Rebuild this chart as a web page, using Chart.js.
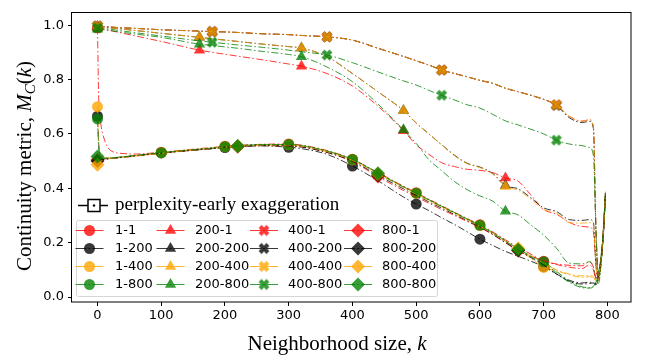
<!DOCTYPE html>
<html>
<head>
<meta charset="utf-8">
<script src="https://cdn.jsdelivr.net/npm/chart.js@4.4.0/dist/chart.umd.min.js"></script>
<style>
html, body { margin: 0; padding: 0; background: #fff; }
</style>
</head>
<body>
<canvas id="chart" width="655" height="362"></canvas>
<script>
// neighborhood sizes k (shared x grid for every curve)
const kValues = [0, 2, 5, 10, 20, 40, 60, 100, 160, 180, 200, 220, 260, 300, 320, 360, 400, 440, 480, 500,
  520, 540, 560, 580, 600, 620, 640, 660, 680, 700, 720, 740, 760, 772, 778, 782, 786, 790, 794, 797];

const perplexities = [1, 200, 400, 800];
const exaggerations = [1, 200, 400, 800];

// k where a marker is drawn, per perplexity
const markerK = {
  1: [0, 100, 200, 300, 400, 500, 600, 700],
  200: [0, 160, 320, 480, 640],
  400: [0, 180, 360, 540, 720],
  800: [0, 220, 440, 660]
};

const xTicks = [0, 100, 200, 300, 400, 500, 600, 700, 800];
const yTicks = [0, 0.2, 0.4, 0.6, 0.8, 1.0];

// continuity metric M_C(k), one array per perplexity-exaggeration
const mc_1_1 = [0.99, 0.72, 0.64, 0.585, 0.54, 0.528, 0.526, 0.533, 0.546, 0.550, 0.555, 0.558, 0.562, 0.563, 0.559, 0.539, 0.507, 0.458, 0.408, 0.384, 0.360, 0.336, 0.312, 0.289, 0.266, 0.240, 0.211, 0.183, 0.158, 0.132, 0.122, 0.117, 0.115, 0.130, 0.110, 0.070, 0.085, 0.145, 0.250, 0.380];
const mc_1_200 = [0.665, 0.56, 0.52, 0.511, 0.511, 0.515, 0.520, 0.530, 0.542, 0.546, 0.550, 0.553, 0.556, 0.551, 0.546, 0.525, 0.482, 0.428, 0.368, 0.342, 0.318, 0.292, 0.267, 0.240, 0.213, 0.190, 0.168, 0.150, 0.132, 0.112, 0.085, 0.062, 0.052, 0.055, 0.050, 0.045, 0.070, 0.130, 0.240, 0.370];
const mc_1_400 = [0.70, 0.57, 0.525, 0.514, 0.512, 0.516, 0.521, 0.531, 0.544, 0.548, 0.553, 0.556, 0.560, 0.560, 0.556, 0.536, 0.505, 0.456, 0.405, 0.381, 0.357, 0.333, 0.310, 0.286, 0.263, 0.236, 0.206, 0.176, 0.142, 0.109, 0.097, 0.082, 0.073, 0.075, 0.070, 0.060, 0.075, 0.140, 0.250, 0.380];
const mc_1_800 = [0.655, 0.55, 0.515, 0.510, 0.511, 0.516, 0.521, 0.531, 0.544, 0.548, 0.553, 0.556, 0.561, 0.561, 0.557, 0.537, 0.506, 0.457, 0.406, 0.382, 0.358, 0.334, 0.311, 0.287, 0.264, 0.237, 0.207, 0.177, 0.152, 0.130, 0.095, 0.060, 0.038, 0.035, 0.040, 0.055, 0.090, 0.150, 0.250, 0.380];

const mc_200_1 = [0.990, 0.990, 0.988, 0.985, 0.980, 0.970, 0.960, 0.940, 0.908, 0.900, 0.893, 0.886, 0.872, 0.857, 0.849, 0.822, 0.776, 0.702, 0.612, 0.560, 0.525, 0.494, 0.480, 0.470, 0.466, 0.458, 0.438, 0.426, 0.375, 0.322, 0.305, 0.275, 0.260, 0.257, 0.240, 0.120, 0.070, 0.130, 0.250, 0.380];
const mc_200_200 = [0.995, 0.995, 0.994, 0.993, 0.990, 0.985, 0.980, 0.970, 0.955, 0.950, 0.945, 0.940, 0.930, 0.921, 0.916, 0.884, 0.822, 0.755, 0.686, 0.640, 0.600, 0.560, 0.522, 0.492, 0.478, 0.455, 0.410, 0.398, 0.365, 0.328, 0.315, 0.285, 0.282, 0.285, 0.275, 0.120, 0.060, 0.130, 0.250, 0.380];
const mc_200_400 = [0.995, 0.995, 0.994, 0.993, 0.990, 0.985, 0.980, 0.970, 0.955, 0.950, 0.945, 0.940, 0.930, 0.921, 0.916, 0.884, 0.822, 0.755, 0.686, 0.640, 0.600, 0.560, 0.520, 0.490, 0.476, 0.452, 0.407, 0.393, 0.360, 0.322, 0.310, 0.274, 0.272, 0.274, 0.265, 0.120, 0.060, 0.130, 0.250, 0.380];
const mc_200_800 = [0.985, 0.985, 0.984, 0.983, 0.980, 0.973, 0.967, 0.955, 0.930, 0.925, 0.920, 0.915, 0.903, 0.892, 0.884, 0.846, 0.792, 0.710, 0.615, 0.565, 0.505, 0.465, 0.425, 0.395, 0.372, 0.353, 0.316, 0.302, 0.265, 0.228, 0.180, 0.125, 0.122, 0.130, 0.110, 0.070, 0.050, 0.120, 0.250, 0.380];

const mc_400_1 = [0.997, 0.997, 0.996, 0.995, 0.993, 0.990, 0.988, 0.983, 0.978, 0.976, 0.975, 0.973, 0.968, 0.965, 0.962, 0.957, 0.945, 0.915, 0.885, 0.869, 0.853, 0.835, 0.822, 0.810, 0.797, 0.786, 0.768, 0.755, 0.742, 0.727, 0.707, 0.665, 0.647, 0.652, 0.625, 0.250, 0.070, 0.130, 0.260, 0.390];
const mc_400_200 = [0.997, 0.997, 0.996, 0.995, 0.993, 0.990, 0.988, 0.983, 0.978, 0.976, 0.975, 0.973, 0.968, 0.965, 0.962, 0.957, 0.945, 0.915, 0.885, 0.869, 0.853, 0.835, 0.822, 0.810, 0.797, 0.786, 0.768, 0.755, 0.742, 0.727, 0.705, 0.660, 0.642, 0.646, 0.620, 0.250, 0.070, 0.130, 0.260, 0.390];
const mc_400_400 = [0.997, 0.997, 0.996, 0.995, 0.993, 0.990, 0.988, 0.983, 0.978, 0.976, 0.975, 0.973, 0.968, 0.965, 0.962, 0.957, 0.945, 0.915, 0.885, 0.869, 0.853, 0.835, 0.822, 0.810, 0.797, 0.786, 0.768, 0.755, 0.742, 0.727, 0.707, 0.665, 0.647, 0.652, 0.625, 0.250, 0.070, 0.130, 0.260, 0.390];
const mc_400_800 = [0.990, 0.990, 0.989, 0.988, 0.985, 0.978, 0.972, 0.960, 0.942, 0.937, 0.932, 0.927, 0.918, 0.908, 0.902, 0.890, 0.862, 0.828, 0.795, 0.780, 0.760, 0.742, 0.725, 0.707, 0.695, 0.672, 0.648, 0.633, 0.617, 0.600, 0.577, 0.563, 0.557, 0.550, 0.520, 0.250, 0.070, 0.130, 0.250, 0.380];

const mc_800_1 = [0.505, 0.505, 0.505, 0.506, 0.509, 0.514, 0.519, 0.529, 0.542, 0.546, 0.551, 0.554, 0.557, 0.556, 0.552, 0.532, 0.498, 0.443, 0.392, 0.368, 0.345, 0.322, 0.300, 0.278, 0.256, 0.230, 0.200, 0.170, 0.150, 0.135, 0.120, 0.110, 0.105, 0.118, 0.100, 0.065, 0.080, 0.140, 0.250, 0.380];
const mc_800_200 = [0.500, 0.502, 0.504, 0.506, 0.509, 0.514, 0.519, 0.529, 0.542, 0.546, 0.551, 0.554, 0.557, 0.556, 0.552, 0.532, 0.500, 0.448, 0.398, 0.374, 0.350, 0.327, 0.304, 0.281, 0.258, 0.231, 0.201, 0.172, 0.145, 0.118, 0.085, 0.058, 0.048, 0.050, 0.052, 0.050, 0.080, 0.140, 0.250, 0.380];
const mc_800_400 = [0.487, 0.495, 0.500, 0.505, 0.509, 0.514, 0.519, 0.529, 0.543, 0.547, 0.552, 0.555, 0.559, 0.559, 0.555, 0.535, 0.503, 0.453, 0.403, 0.379, 0.355, 0.331, 0.308, 0.284, 0.261, 0.234, 0.205, 0.180, 0.152, 0.125, 0.100, 0.085, 0.078, 0.080, 0.075, 0.060, 0.080, 0.140, 0.250, 0.380];
const mc_800_800 = [0.517, 0.513, 0.510, 0.510, 0.511, 0.516, 0.521, 0.531, 0.544, 0.548, 0.553, 0.556, 0.561, 0.561, 0.557, 0.537, 0.506, 0.455, 0.405, 0.381, 0.357, 0.333, 0.310, 0.286, 0.263, 0.236, 0.206, 0.174, 0.148, 0.125, 0.090, 0.055, 0.035, 0.033, 0.038, 0.050, 0.090, 0.150, 0.260, 0.390];

const curves = {
  '1-1': mc_1_1, '1-200': mc_1_200, '1-400': mc_1_400, '1-800': mc_1_800,
  '200-1': mc_200_1, '200-200': mc_200_200, '200-400': mc_200_400, '200-800': mc_200_800,
  '400-1': mc_400_1, '400-200': mc_400_200, '400-400': mc_400_400, '400-800': mc_400_800,
  '800-1': mc_800_1, '800-200': mc_800_200, '800-400': mc_800_400, '800-800': mc_800_800
};

const legendTitle = 'perplexity-early exaggeration';

// styles
const colors = {1: 'rgba(255,0,0,0.78)', 200: 'rgba(0,0,0,0.78)', 400: 'rgba(255,165,0,0.8)', 800: 'rgba(0,128,0,0.78)'};
const shapes = {1: 'circle', 200: 'triangle', 400: 'x', 800: 'diamond'};
const sizes = {circle: 5.5, triangle: 6.5, diamond: 7};
const dash = [7, 2.5, 1.5, 2.5];
const tickFont = {family: 'DejaVu Sans', size: 13};
const serif = '"Liberation Serif", "Times New Roman", serif';

// filled "X" marker as a small canvas
function makeX(color) {
  const cv = document.createElement('canvas');
  cv.width = 14; cv.height = 14;
  const c = cv.getContext('2d');
  const w = 2.1, L = 5.6;
  const pts = [[-w,-L],[w,-L],[w,-w],[L,-w],[L,w],[w,w],[w,L],[-w,L],[-w,w],[-L,w],[-L,-w],[-w,-w]];
  c.translate(7, 7);
  c.rotate(Math.PI / 4);
  c.beginPath();
  pts.forEach((p, i) => i ? c.lineTo(p[0], p[1]) : c.moveTo(p[0], p[1]));
  c.closePath();
  c.fillStyle = color;
  c.fill();
  return cv;
}
const xImages = {};
exaggerations.forEach(e => { xImages[e] = makeX(colors[e]); });

function chartStyle(p, e) {
  const s = shapes[p];
  if (s === 'x') return xImages[e];
  if (s === 'diamond') return 'rectRot';
  return s;
}

const datasets = [];
perplexities.forEach(p => {
  exaggerations.forEach(e => {
    const label = p + '-' + e;
    const vals = curves[label];
    const marks = markerK[p];
    const r = shapes[p] === 'x' ? 6 : sizes[shapes[p]];
    datasets.push({
      label,
      data: kValues.map((k, i) => ({x: k, y: vals[i]})),
      borderColor: colors[e],
      borderWidth: 1,
      borderDash: dash,
      backgroundColor: colors[e],
      pointBackgroundColor: colors[e],
      pointBorderWidth: 0,
      pointStyle: chartStyle(p, e),
      pointRadius: ctx => (ctx.raw && marks.includes(ctx.raw.x)) ? r : 0,
      cubicInterpolationMode: 'monotone',
      fill: false,
      order: -datasets.length
    });
  });
});

function drawMarker(c, p, e, x, y) {
  const s = shapes[p];
  c.fillStyle = colors[e];
  c.beginPath();
  if (s === 'circle') {
    c.arc(x, y, sizes.circle, 0, Math.PI * 2);
  } else if (s === 'triangle') {
    const r = sizes.triangle;
    c.moveTo(x, y - r);
    c.lineTo(x + r * Math.sin(2 * Math.PI / 3), y - r * Math.cos(2 * Math.PI / 3));
    c.lineTo(x + r * Math.sin(4 * Math.PI / 3), y - r * Math.cos(4 * Math.PI / 3));
    c.closePath();
  } else if (s === 'diamond') {
    const r = sizes.diamond;
    c.moveTo(x - r, y); c.lineTo(x, y - r); c.lineTo(x + r, y); c.lineTo(x, y + r);
    c.closePath();
  } else {
    c.drawImage(xImages[e], x - 7, y - 7);
    return;
  }
  c.fill();
}

// rich text (mixed upright / italic / subscript), centred on x
function drawRich(c, parts, x, y) {
  let total = 0;
  parts.forEach(pt => { c.font = pt.f; pt.w = c.measureText(pt.t).width; total += pt.w; });
  let cx = x - total / 2;
  parts.forEach(pt => {
    c.font = pt.f;
    c.fillText(pt.t, cx, y + (pt.dy || 0));
    cx += pt.w;
  });
}

const decor = {
  id: 'decor',
  afterDraw(chart) {
    const c = chart.ctx, a = chart.chartArea;
    c.save();
    // axes frame
    c.strokeStyle = '#000';
    c.lineWidth = 1;
    c.setLineDash([]);
    c.strokeRect(Math.round(a.left) - 0.5, Math.round(a.top) + 0.5, Math.round(a.right - a.left) + 0.5, Math.round(a.bottom - a.top) - 0.5);

    // axis titles
    c.fillStyle = '#000';
    c.textBaseline = 'alphabetic';
    c.textAlign = 'left';
    drawRich(c, [
      {t: 'Neighborhood size, ', f: '21px ' + serif},
      {t: 'k', f: 'italic 21px ' + serif}
    ], 337, 350);
    c.save();
    c.translate(31, 166);
    c.rotate(-Math.PI / 2);
    drawRich(c, [
      {t: 'Continuity metric, ', f: '21px ' + serif},
      {t: 'M', f: 'italic 21px ' + serif},
      {t: 'C', f: 'italic 15px ' + serif, dy: 4},
      {t: '(', f: '21px ' + serif},
      {t: 'k', f: 'italic 21px ' + serif},
      {t: ')', f: '21px ' + serif}
    ], 0, 0);
    c.restore();

    // legend title entry
    c.strokeStyle = '#000';
    c.lineWidth = 1.5;
    c.beginPath(); c.moveTo(78, 205.5); c.lineTo(108, 205.5); c.stroke();
    c.fillStyle = '#fff';
    c.fillRect(88, 199.5, 12, 12);
    c.strokeRect(88, 199.5, 12, 12);
    c.fillStyle = '#000';
    c.beginPath(); c.arc(94, 205.5, 1.2, 0, Math.PI * 2); c.fill();
    c.font = '19px ' + serif;
    c.textBaseline = 'middle';
    c.fillText(legendTitle, 115, 205);

    // legend box
    const bx = 76.5, by = 220.5, bw = 361, bh = 76;
    c.beginPath();
    c.roundRect(bx, by, bw, bh, 2);
    c.fillStyle = 'rgba(255,255,255,0.8)';
    c.fill();
    c.strokeStyle = 'rgba(204,204,204,0.8)';
    c.lineWidth = 1;
    c.stroke();

    const handleX = [89.5, 170.5, 264, 358];
    const textX = [115, 195, 288, 382];
    const rowY = [230.5, 248.5, 266.5, 284.5];
    c.font = '13px "DejaVu Sans"';
    perplexities.forEach((p, ci) => {
      exaggerations.forEach((e, ri) => {
        const hx = handleX[ci], y = rowY[ri];
        c.strokeStyle = colors[e];
        c.lineWidth = 1.2;
        c.setLineDash([11, 2, 2, 2]);
        c.beginPath(); c.moveTo(hx - 14, y); c.lineTo(hx + 14, y); c.stroke();
        c.setLineDash([]);
        drawMarker(c, p, e, hx, y);
        c.fillStyle = '#000';
        c.fillText(p + '-' + e, textX[ci], y + 0.5);
      });
    });
    c.restore();
  }
};

new Chart(document.getElementById('chart'), {
  type: 'line',
  data: {datasets},
  options: {
    responsive: false,
    animation: false,
    events: [],
    layout: {padding: {left: 0, right: 24, top: 2, bottom: 0}},
    plugins: {legend: {display: false}, tooltip: {enabled: false}},
    scales: {
      x: {
        type: 'linear',
        min: -40,
        max: 837,
        afterBuildTicks: s => { s.ticks = xTicks.map(v => ({value: v})); },
        afterFit: s => { s.height = 60; },
        ticks: {font: tickFont, color: '#000', padding: 2, autoSkip: false, maxRotation: 0},
        grid: {drawOnChartArea: false, drawTicks: true, tickLength: 4, color: '#000'},
        border: {display: false}
      },
      y: {
        type: 'linear',
        min: -0.018,
        max: 1.049,
        afterBuildTicks: s => { s.ticks = yTicks.map(v => ({value: v})); },
        afterFit: s => { s.width = 72; },
        ticks: {font: tickFont, color: '#000', padding: 4, callback: v => v.toFixed(1)},
        grid: {drawOnChartArea: false, drawTicks: true, tickLength: 4, color: '#000'},
        border: {display: false}
      }
    }
  },
  plugins: [decor]
});
</script>
</body>
</html>
